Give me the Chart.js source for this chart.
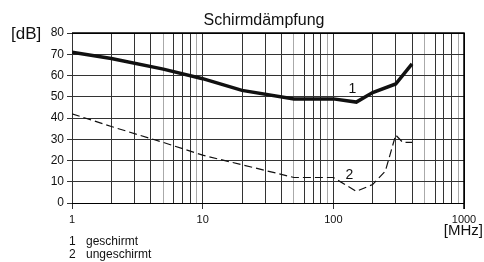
<!DOCTYPE html>
<html>
<head>
<meta charset="utf-8">
<script src="https://cdn.jsdelivr.net/npm/chart.js@4/dist/chart.umd.min.js"></script>
<style>
  html, body { margin: 0; padding: 0; background: #fff; }
  #wrap { width: 484px; height: 262px; position: relative; }
</style>
</head>
<body>
<div id="wrap"><canvas id="chart"></canvas></div>
<script>
// frequency [MHz] and attenuation [dB]
const freqShielded = [1, 2, 5, 10, 20, 50, 100, 150, 200, 300, 400];
const dbShielded = [71, 68, 63, 58.5, 53, 49, 49, 47.5, 52, 56, 65.5];
const freqUnshielded = [1, 2, 5, 10, 20, 50, 100, 150, 200, 250, 300, 340, 400];
const dbUnshielded = [42, 36, 28.5, 22.5, 18, 12, 12, 5.5, 8.7, 15, 32, 28.5, 28.5];
const seriesLabels = ['1', '2'];
const legendNames = ['geschirmt', 'ungeschirmt'];
const xMajor = [1, 10, 100, 1000];

const FONT = '"Liberation Sans", Arial, sans-serif';

const toPoints = (xs, ys) => xs.map((x, i) => ({ x: x, y: ys[i] }));

const textPlugin = {
  id: 'texts',
  afterDraw(chart) {
    const { ctx, chartArea, scales } = chart;
    ctx.save();
    ctx.fillStyle = '#111';
    ctx.textBaseline = 'middle';
    ctx.font = '16px ' + FONT;
    ctx.textAlign = 'center';
    ctx.fillText('Schirmdämpfung', 264, 21);
    ctx.font = '17px ' + FONT;
    ctx.textAlign = 'left';
    ctx.fillText('[dB]', 11, 34);
    ctx.font = '15px ' + FONT;
    ctx.textAlign = 'right';
    ctx.fillText('[MHz]', 483, 231);
    // legend below the plot
    ctx.font = '12px ' + FONT;
    ctx.textAlign = 'left';
    legendNames.forEach((name, i) => {
      ctx.fillText(seriesLabels[i], 69, 242 + i * 13);
      ctx.fillText(name, 86, 242 + i * 13);
    });
    // curve numbers
    ctx.font = '14px ' + FONT;
    ctx.textAlign = 'center';
    ctx.fillText(seriesLabels[0], scales.x.getPixelForValue(140), scales.y.getPixelForValue(53.5));
    ctx.fillText(seriesLabels[1], scales.x.getPixelForValue(133), scales.y.getPixelForValue(13));
    // frame top / right
    ctx.strokeStyle = '#000';
    ctx.lineWidth = 1.5;
    ctx.beginPath();
    ctx.moveTo(chartArea.left, chartArea.top);
    ctx.lineTo(chartArea.right, chartArea.top);
    ctx.lineTo(chartArea.right, chartArea.bottom + 6);
    ctx.stroke();
    ctx.restore();
  }
};

new Chart(document.getElementById('chart'), {
  type: 'line',
  data: {
    datasets: [
      {
        label: seriesLabels[0],
        data: toPoints(freqShielded, dbShielded),
        borderColor: '#111',
        borderWidth: 3.5,
        pointRadius: 0,
        tension: 0
      },
      {
        label: seriesLabels[1],
        data: toPoints(freqUnshielded, dbUnshielded),
        borderColor: '#111',
        borderWidth: 1.2,
        borderDash: [8, 4],
        pointRadius: 0,
        tension: 0
      }
    ]
  },
  options: {
    responsive: true,
    maintainAspectRatio: false,
    animation: false,
    layout: { padding: { left: 0, right: 20, top: 33, bottom: 0 } },
    plugins: {
      legend: { display: false },
      tooltip: { enabled: false }
    },
    scales: {
      x: {
        type: 'logarithmic',
        min: 1,
        max: 1000,
        afterBuildTicks(scale) {
          const ticks = [];
          for (let d = 1; d < 1000; d *= 10) {
            for (let m = 1; m < 10; m++) ticks.push({ value: m * d });
          }
          ticks.push({ value: 1000 });
          scale.ticks = ticks;
        },
        afterFit(scale) { scale.height = 59; },
        border: { display: false },
        grid: {
          tickLength: 6,
          tickColor(c) {
            const v = c.tick ? c.tick.value : 0;
            return xMajor.includes(v) ? '#333' : 'rgba(0,0,0,0)';
          },
          color(c) {
            const v = c.tick ? c.tick.value : 0;
            const m = Math.round(v / Math.pow(10, Math.floor(Math.log10(v) + 1e-9)));
            if (v === 1000) return '#000';
            return (m === 5 || m === 9) ? '#aaa' : '#333';
          }
        },
        ticks: {
          autoSkip: false,
          maxRotation: 0,
          color: '#111',
          padding: 4,
          font: { family: FONT, size: 11 },
          callback(v) { return xMajor.includes(v) ? String(v) : ''; }
        }
      },
      y: {
        min: 0,
        max: 80,
        afterFit(scale) { scale.width = 72; },
        border: { display: false },
        grid: {
          tickLength: 5,
          tickColor(c) {
            const v = c.tick ? c.tick.value : 0;
            return v % 10 === 0 ? '#333' : 'rgba(0,0,0,0)';
          },
          color(c) {
            const v = c.tick ? c.tick.value : 0;
            if (v === 80 || v === 0) return '#000';
            return v % 10 === 0 ? '#333' : '#aaa';
          }
        },
        ticks: {
          stepSize: 5,
          color: '#111',
          padding: 3,
          font: { family: FONT, size: 12 },
          callback(v) { return v % 10 === 0 ? String(v) : ''; }
        }
      }
    }
  },
  plugins: [textPlugin]
});
</script>
</body>
</html>
